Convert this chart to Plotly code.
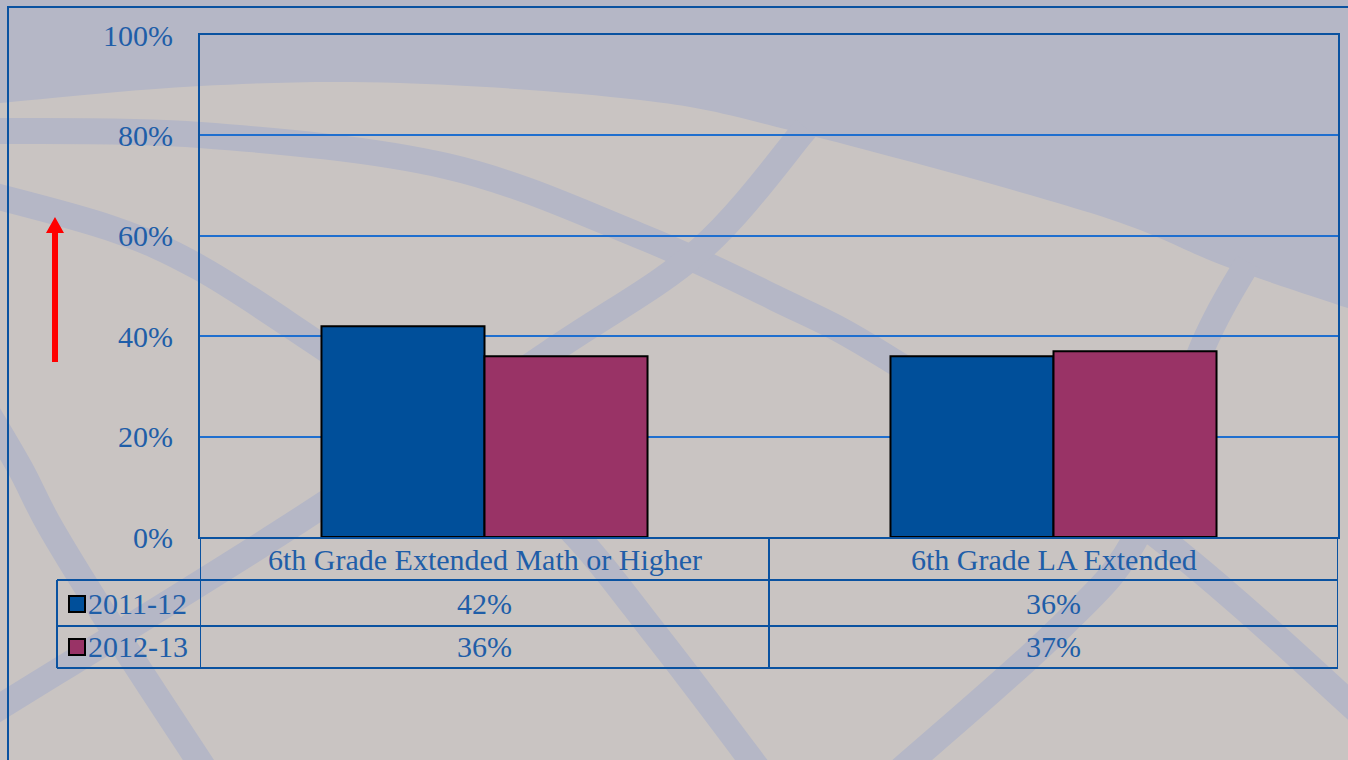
import plotly.graph_objects as go

# ---------------- data ----------------
categories = ["6th Grade Extended Math or Higher", "6th Grade LA Extended"]
series_names = ["2011-12", "2012-13"]
values_2011_12 = [42, 36]
values_2012_13 = [36, 37]
series_values = [values_2011_12, values_2012_13]
series_colors = ["#004F9A", "#993366"]
y_ticks = [0, 20, 40, 60, 80, 100]
y_tick_labels = [f"{t}%" for t in y_ticks]

# ---------------- geometry helpers ----------------
W, H = 1348, 760
FONT = "Liberation Serif"
FS = 30
TXT = "#1F5EA8"
FRAME = "#0A52A0"
GRID = "#1F6FCF"
BG_GREY = "#B5B7C6"
BG_BEIGE = "#C9C4C2"


def px(x):
    return x / W


def py(y):
    return 1 - y / H


def smooth_path(pts):
    """Catmull-Rom spline through pixel points -> SVG path in paper coords."""
    p = [pts[0]] + pts + [pts[-1]]
    d = f"M {px(p[1][0]):.5f},{py(p[1][1]):.5f}"
    for i in range(1, len(p) - 2):
        p0, p1, p2, p3 = p[i - 1], p[i], p[i + 1], p[i + 2]
        c1 = (p1[0] + (p2[0] - p0[0]) / 6, p1[1] + (p2[1] - p0[1]) / 6)
        c2 = (p2[0] - (p3[0] - p1[0]) / 6, p2[1] - (p3[1] - p1[1]) / 6)
        d += (f" C {px(c1[0]):.5f},{py(c1[1]):.5f} {px(c2[0]):.5f},{py(c2[1]):.5f}"
              f" {px(p2[0]):.5f},{py(p2[1]):.5f}")
    return d


shapes = []

# ---- decorative globe background ----
globe = smooth_path([(-10, 104), (200, 86), (400, 83), (640, 100), (789, 130),
                     (1091, 213), (1227, 267), (1360, 312)])
globe += (f" L {px(1360):.5f},{py(770):.5f} L {px(-10):.5f},{py(770):.5f} Z")
shapes.append(dict(type="path", xref="paper", yref="paper", path=globe,
                   fillcolor=BG_BEIGE, line=dict(width=0), layer="below"))

bands = [
    [(-20, 131), (200, 135), (446, 166), (640, 236), (775, 298), (888, 358),
     (1150, 530), (1370, 722)],
    [(-20, 192), (110, 228), (200, 268), (312, 340), (450, 435), (561, 520),
     (660, 640), (770, 785)],
    [(-20, 400), (20, 468), (52, 530), (120, 640), (205, 770)],
    [(806, 128), (700, 250), (549, 353), (300, 520), (0, 707), (-30, 725)],
    [(1248, 262), (1200, 353), (1140, 530), (1058, 630), (895, 775)],
]
for b in bands:
    shapes.append(dict(type="path", xref="paper", yref="paper", path=smooth_path(b),
                       line=dict(color=BG_GREY, width=26), layer="below"))

# ---- outer frame ----
shapes.append(dict(type="rect", xref="paper", yref="paper",
                   x0=px(8), x1=px(1400), y0=py(7), y1=py(800),
                   line=dict(color=FRAME, width=2), layer="below"))

# ---- red arrow ----
arrow = [(52, 362), (52, 233), (46, 233), (55, 217), (64, 233), (58, 233), (58, 362)]
arrow_path = "M " + " L ".join(f"{px(x):.5f},{py(y):.5f}" for x, y in arrow) + " Z"
shapes.append(dict(type="path", xref="paper", yref="paper", path=arrow_path,
                   fillcolor="#FF0000", line=dict(width=0)))

# ---- data table ----
row_lines = [580, 626, 668]
for yl in row_lines:
    shapes.append(dict(type="line", xref="paper", yref="paper",
                       x0=px(57), x1=px(1338), y0=py(yl), y1=py(yl),
                       line=dict(color=FRAME, width=2)))
# category column dividers (on the category axis)
for xb in [-0.5, 0.5, 1.5]:
    shapes.append(dict(type="line", xref="x", yref="paper",
                       x0=xb, x1=xb, y0=py(537), y1=py(668),
                       line=dict(color=FRAME, width=2)))
shapes.append(dict(type="line", xref="paper", yref="paper",
                   x0=px(57), x1=px(57), y0=py(580), y1=py(668),
                   line=dict(color=FRAME, width=2)))

annotations = []
# category headers
for c in categories:
    annotations.append(dict(x=c, xref="x", y=py(559), yref="paper", text=c,
                            showarrow=False, xanchor="center", yanchor="middle",
                            font=dict(family=FONT, size=FS, color=TXT)))
row_centers = [603, 646]
for name, vals, col, yc in zip(series_names, series_values, series_colors, row_centers):
    # legend key
    shapes.append(dict(type="rect", xref="paper", yref="paper",
                       x0=px(69), x1=px(85), y0=py(yc - 7), y1=py(yc + 9),
                       fillcolor=col, line=dict(color="#000000", width=2)))
    annotations.append(dict(x=px(86), xref="paper", y=py(yc), yref="paper", text=name,
                            showarrow=False, xanchor="left", yanchor="middle",
                            font=dict(family=FONT, size=FS, color=TXT)))
    for c, v in zip(categories, vals):
        annotations.append(dict(x=c, xref="x", y=py(yc), yref="paper", text=f"{v}%",
                                showarrow=False, xanchor="center", yanchor="middle",
                                font=dict(family=FONT, size=FS, color=TXT)))

# ---------------- figure ----------------
fig = go.Figure()
for name, vals, col in zip(series_names, series_values, series_colors):
    fig.add_trace(go.Bar(x=categories, y=vals, name=name,
                         marker=dict(color=col, line=dict(color="#000000", width=2)),
                         hoverinfo="skip"))

fig.update_layout(
    width=W, height=H,
    margin=dict(l=0, r=0, t=0, b=0, autoexpand=False),
    paper_bgcolor=BG_GREY,
    plot_bgcolor="rgba(0,0,0,0)",
    showlegend=False,
    barmode="group",
    bargap=0.427,
    bargroupgap=0,
    shapes=shapes,
    annotations=annotations,
    xaxis=dict(domain=[px(200), px(1338)], type="category", range=[-0.5, 1.5],
               automargin=False,
               showticklabels=False, showgrid=False, zeroline=False,
               showline=True, mirror=True, linecolor=FRAME, linewidth=2, ticks=""),
    yaxis=dict(domain=[py(537), py(35)], range=[0, 100], automargin=False,
               tickvals=y_ticks, ticktext=y_tick_labels,
               tickfont=dict(family=FONT, size=FS, color=TXT),
               ticklabelstandoff=19,
               showgrid=True, gridcolor=GRID, gridwidth=2, zeroline=False,
               showline=True, mirror=True, linecolor=FRAME, linewidth=2, ticks=""),
)

fig.write_html(
    "out.html",
    config=dict(displayModeBar=False),
    post_script="document.body.style.margin='0px';document.body.style.overflow='hidden';",
)
